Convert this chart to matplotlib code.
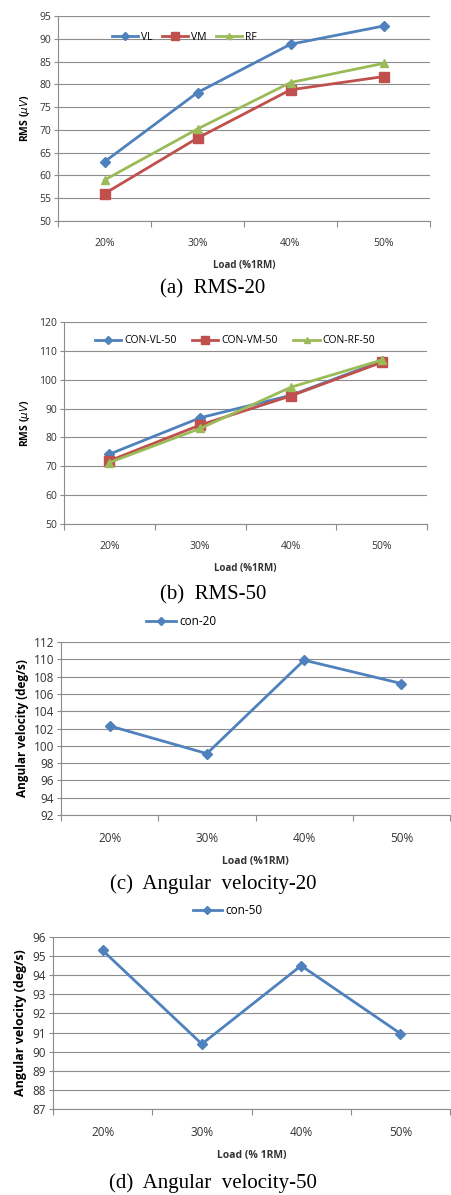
import matplotlib.pyplot as plt
from matplotlib.ticker import FixedLocator, NullFormatter

loads = ["20%", "30%", "40%", "50%"]

rms20_vl = [63.0, 78.2, 88.8, 92.8]
rms20_vm = [56.0, 68.2, 78.8, 81.7]
rms20_rf = [59.0, 70.2, 80.4, 84.6]

rms50_vl = [74.2, 86.8, 94.6, 106.4]
rms50_vm = [71.9, 84.3, 94.4, 106.0]
rms50_rf = [71.3, 83.1, 97.4, 106.8]

ang20 = [102.3, 99.1, 109.9, 107.2]
ang50 = [95.3, 90.4, 94.5, 90.95]

BLUE = "#4F81BD"
RED = "#C0504D"
GREEN = "#9BBB59"
GRID = "#8c8c8c"

W, H = 451, 1195


def make_axes(fig, left, right, top, bottom):
    return fig.add_axes([left / W, 1 - bottom / H, (right - left) / W, (bottom - top) / H])


def style(ax, ymin, ymax, ystep, fs):
    x = range(len(loads))
    ax.set_xlim(-0.5, len(loads) - 0.5)
    ax.set_ylim(ymin, ymax)
    ax.set_yticks([ymin + i * ystep for i in range(int(round((ymax - ymin) / ystep)) + 1)])
    ax.xaxis.set_major_locator(FixedLocator([i - 0.5 for i in range(len(loads) + 1)]))
    ax.xaxis.set_major_formatter(NullFormatter())
    ax.xaxis.set_minor_locator(FixedLocator(list(x)))
    ax.set_xticklabels(loads, minor=True)
    ax.tick_params(axis="x", which="major", length=4, color=GRID, width=0.8)
    ax.tick_params(axis="x", which="minor", length=0, pad=12, labelsize=fs, labelcolor="#333333")
    ax.tick_params(axis="y", length=3, color=GRID, labelsize=fs, labelcolor="#333333", pad=2)
    ax.grid(axis="y", color=GRID, linewidth=0.8)
    ax.set_axisbelow(True)
    for s in ["top", "right"]:
        ax.spines[s].set_visible(False)
    for s in ["left", "bottom"]:
        ax.spines[s].set_color(GRID)
        ax.spines[s].set_linewidth(0.8)


plt.rcParams["font.family"] = ["Open Sans", "DejaVu Sans"]

fig = plt.figure(figsize=(W / 100, H / 100), dpi=100)
cap_font = {"family": "Liberation Serif", "size": 15}
x = list(range(len(loads)))

# (a) RMS-20
ax = make_axes(fig, 58, 430, 16, 221)
ax.plot(x, rms20_vl, color=BLUE, marker="D", markersize=5, linewidth=2, label="VL")
ax.plot(x, rms20_vm, color=RED, marker="s", markersize=7, linewidth=2, label="VM")
ax.plot(x, rms20_rf, color=GREEN, marker="^", markersize=6, linewidth=2, label="RF")
style(ax, 50, 95, 5, 7.5)
ax.set_ylabel("RMS ($\\mu V$)", fontsize=7.5, fontweight="bold", labelpad=5)
ax.set_xlabel("Load (%1RM)", fontsize=7, fontweight="bold", labelpad=8, color="#333333")
ax.legend(loc="upper left", bbox_to_anchor=(0.12, 0.97), ncol=3, frameon=False, fontsize=7.5,
          handlelength=2.5, columnspacing=0.9, handletextpad=0.3, markerscale=0.8)
fig.text(213 / W, 1 - 289 / H, "(a)  RMS-20", ha="center", va="center", **cap_font)

# (b) RMS-50
ax = make_axes(fig, 64, 427, 322, 524)
ax.plot(x, rms50_vl, color=BLUE, marker="D", markersize=5, linewidth=2, label="CON-VL-50")
ax.plot(x, rms50_vm, color=RED, marker="s", markersize=7, linewidth=2, label="CON-VM-50")
ax.plot(x, rms50_rf, color=GREEN, marker="^", markersize=6, linewidth=2, label="CON-RF-50")
style(ax, 50, 120, 10, 7.5)
ax.set_ylabel("RMS ($\\mu V$)", fontsize=7.5, fontweight="bold", labelpad=5)
ax.set_xlabel("Load (%1RM)", fontsize=7, fontweight="bold", labelpad=8, color="#333333")
ax.legend(loc="upper left", bbox_to_anchor=(0.06, 0.98), ncol=3, frameon=False, fontsize=7.5,
          handlelength=2.5, columnspacing=1.5, handletextpad=0.3, markerscale=0.8)
fig.text(213 / W, 1 - 595 / H, "(b)  RMS-50", ha="center", va="center", **cap_font)

# (c) Angular velocity-20
ax = make_axes(fig, 61, 450, 642, 815)
ax.plot(x, ang20, color=BLUE, marker="D", markersize=5, linewidth=2, label="con-20")
style(ax, 92, 112, 2, 8.5)
ax.set_ylabel("Angular velocity (deg/s)", fontsize=8.5, fontweight="bold", labelpad=3)
ax.set_xlabel("Load (%1RM)", fontsize=7.5, fontweight="bold", labelpad=8, color="#333333")
ax.legend(loc="center", bbox_to_anchor=(0.31, 1.12), frameon=False, fontsize=8.5,
          handlelength=2.5, handletextpad=0.3, markerscale=0.8)
fig.text(213 / W, 1 - 884 / H, "(c)  Angular  velocity-20", ha="center", va="center", **cap_font)

# (d) Angular velocity-50
ax = make_axes(fig, 53, 450, 937, 1109)
ax.plot(x, ang50, color=BLUE, marker="D", markersize=5, linewidth=2, label="con-50")
style(ax, 87, 96, 1, 8.5)
ax.set_ylabel("Angular velocity (deg/s)", fontsize=9, fontweight="bold", labelpad=4)
ax.set_xlabel("Load (% 1RM)", fontsize=7.5, fontweight="bold", labelpad=8, color="#333333")
ax.legend(loc="center", bbox_to_anchor=(0.44, 1.155), frameon=False, fontsize=8.5,
          handlelength=2.5, handletextpad=0.3, markerscale=0.8)
fig.text(213 / W, 1 - 1183 / H, "(d)  Angular  velocity-50", ha="center", va="center", **cap_font)

fig.savefig("out.png", dpi=100)
